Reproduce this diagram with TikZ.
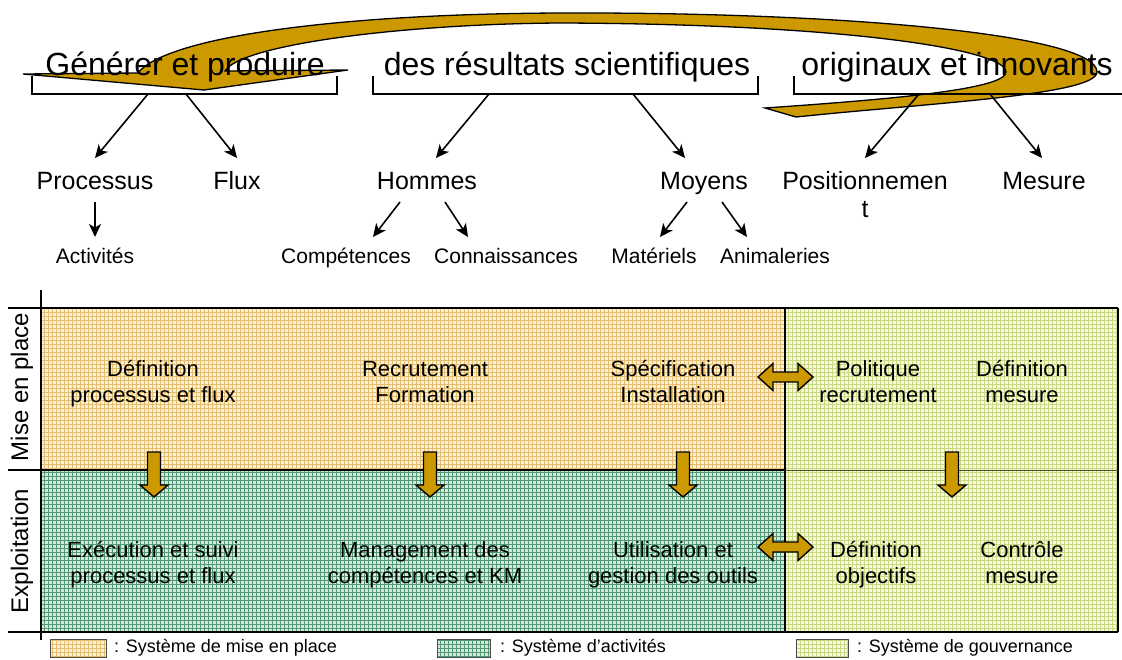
\documentclass[tikz,border=0pt]{standalone}
\usepackage{fontspec}
\setmainfont{Liberation Sans}
\usetikzlibrary{arrows.meta}

\definecolor{gold}{RGB}{204,153,0}
\definecolor{misebg}{RGB}{252,240,212}
\definecolor{miseline}{RGB}{228,190,110}
\definecolor{actbg}{RGB}{212,233,220}
\definecolor{actline}{RGB}{82,152,116}
\definecolor{govbg}{RGB}{246,249,218}
\definecolor{govline}{RGB}{202,216,132}

\tikzset{
  headtxt/.style={font=\fontsize{32}{38}\selectfont, anchor=base, inner sep=0pt},
  lvtwo/.style={font=\fontsize{25}{28}\selectfont, anchor=base, inner sep=0pt,
    text height=18pt, text depth=0pt, outer sep=13pt},
  lvtwobis/.style={font=\fontsize{25}{28}\selectfont, align=center, inner sep=0pt, outer sep=13pt},
  lvthree/.style={font=\fontsize{21}{24}\selectfont, anchor=base, inner sep=0pt,
    text height=15pt, text depth=0pt, outer sep=11pt},
  celltxt/.style={font=\fontsize{22}{26}\selectfont, align=center, inner sep=0pt,
    execute at begin node={\rule{0pt}{22pt}}, execute at end node={\rule[-7pt]{0pt}{1pt}}},
  axetxt/.style={font=\fontsize{24}{28}\selectfont, rotate=90, inner sep=0pt},
  legtxt/.style={font=\fontsize{18}{22}\selectfont, anchor=west, inner sep=0pt},
  fleche/.style={line width=1.6pt, -{Stealth[length=13pt,width=12pt,inset=3.5pt]}},
  bloc/.style={fill=gold, draw=black, line width=1.4pt, line join=miter}
}

\begin{document}
\begin{tikzpicture}[x=1pt,y=-1pt]
  \useasboundingbox (0,0) rectangle (1122,659);

  % zones
  \fill[misebg] (41,308) rectangle (785,470);
  \fill[actbg] (41,470) rectangle (785,632);
  \fill[govbg] (785,308) rectangle (1118,632);
  \draw[miseline, step=4pt, line width=1pt] (41,308) grid (785,470);
  \draw[actline, step=4pt, line width=1pt] (41,470) grid (785,632);
  \draw[govline, step=4pt, line width=1pt] (785,308) grid (1118,632);

  % axes
  \draw[line width=2pt] (41,290) -- (41,640);
  \draw[line width=2pt] (8,308) -- (1118,308);
  \draw[line width=2pt] (8,470) -- (785,470);
  \draw[line width=2pt] (8,632) -- (1118,632);
  \draw[line width=1.5pt] (785,308) -- (785,632);
  \draw[line width=1.5pt] (1118,308) -- (1118,632);
  \draw[black!60!olive, line width=1pt] (785,470) -- (1118,470);

  \node[axetxt] (mep) at (22,387) {Mise en place};
  \node[axetxt] (exp) at (22,551) {Exploitation};

  % grande fleche courbe
  \draw[fill=gold, line width=1.3pt, line join=miter]
    (796,117) .. controls (930,103) and (1097,95) .. (1097,72)
    .. controls (1097,35) and (850,12) .. (560,13)
    .. controls (330,14) and (165,38) .. (138,73)
    -- (23,74) -- (204,90) -- (348,70) -- (225,71)
    .. controls (240,45) and (400,24) .. (560,23)
    .. controls (850,24) and (1006,50) .. (1006,72)
    .. controls (1006,90) and (880,100) .. (765,108) -- cycle;

  % phrase du haut
  \node[headtxt] (gen) at (185,75) {Générer et produire};
  \node[headtxt] (res) at (567,75) {des résultats scientifiques};
  \node[headtxt] (ori) at (957,75) {originaux et innovants};

  \draw[line width=1.3pt] (32,76) -- (32,94) -- (337,94) -- (337,76);
  \draw[line width=1.3pt] (373,76) -- (373,94) -- (758,94) -- (758,76);
  \draw[line width=1.3pt] (794,76) -- (794,94) -- (1122,94);
  \coordinate (b1a) at (148,94);
  \coordinate (b1b) at (186,94);
  \coordinate (b2a) at (489,94);
  \coordinate (b2b) at (633,94);
  \coordinate (b3a) at (919,94);
  \coordinate (b3b) at (990,94);

  % niveau 2
  \node[lvtwo] (proc) at (95,189) {Processus};
  \node[lvtwo] (flux) at (237,189) {Flux};
  \node[lvtwo] (hom) at (427,189) {Hommes};
  \node[lvtwo] (moy) at (704,189) {Moyens};
  \node[lvtwobis, anchor=north] (pos) at (865,158) {Positionnemen\\t};
  \node[lvtwo] (mes) at (1044,189) {Mesure};

  \draw[fleche] (b1a) -- (proc.north);
  \draw[fleche] (b1b) -- (flux.north);
  \draw[fleche] (b2a) -- ([xshift=9pt]hom.north);
  \draw[fleche] (b2b) -- ([xshift=-19pt]moy.north);
  \draw[fleche] (b3a) -- (pos.north);
  \draw[fleche] (b3b) -- ([xshift=-2pt]mes.north);

  % niveau 3
  \node[lvthree] (act) at (95,263) {Activités};
  \node[lvthree] (comp) at (346,263) {Compétences};
  \node[lvthree] (conn) at (506,263) {Connaissances};
  \node[lvthree] (mat) at (654,263) {Matériels};
  \node[lvthree] (ani) at (775,263) {Animaleries};

  \draw[fleche] (proc.south) -- (act.north);
  \draw[fleche] ([xshift=-27pt]hom.south) -- ([xshift=27pt]comp.north);
  \draw[fleche] ([xshift=18pt]hom.south) -- ([xshift=-38pt]conn.north);
  \draw[fleche] ([xshift=-17pt]moy.south) -- ([xshift=6pt]mat.north);
  \draw[fleche] ([xshift=18pt]moy.south) -- ([xshift=-28pt]ani.north);

  % cases
  \node[celltxt] (c11) at (153,385) {Définition\\processus et flux};
  \node[celltxt] (c12) at (425,385) {Recrutement\\Formation};
  \node[celltxt] (c13) at (673,385) {Spécification\\Installation};
  \node[celltxt] (c14) at (878,385) {Politique\\recrutement};
  \node[celltxt] (c15) at (1022,385) {Définition\\mesure};
  \node[celltxt] (c21) at (153,566) {Exécution et suivi\\processus et flux};
  \node[celltxt] (c22) at (425,566) {Management des\\compétences et KM};
  \node[celltxt] (c23) at (673,566) {Utilisation et\\gestion des outils};
  \node[celltxt] (c24) at (876,566) {Définition\\objectifs};
  \node[celltxt] (c25) at (1022,566) {Contrôle\\mesure};

  \foreach \x in {154,430,683,952}
    \draw[bloc] (\x-6.5,452) -- (\x+6.5,452) -- (\x+6.5,485) -- (\x+14,485)
      -- (\x,497) -- (\x-14,485) -- (\x-6.5,485) -- cycle;

  \foreach \y in {377,547}
    \draw[bloc] (758,\y) -- (773,\y-13.5) -- (773,\y-5) -- (798,\y-5) -- (798,\y-13.5)
      -- (813,\y) -- (798,\y+13.5) -- (798,\y+5) -- (773,\y+5) -- (773,\y+13.5) -- cycle;

  % legende
  \fill[misebg] (50,639) rectangle (106,657);
  \draw[miseline, step=4pt, line width=1pt] (50,639) grid (106,657);
  \draw[black!70, line width=1pt] (50,639) rectangle (106,657);
  \node[legtxt] (l1) at (114,648) {: Système de mise en place};
  \fill[actbg] (437,639) rectangle (490,657);
  \draw[actline, step=4pt, line width=1pt] (437,639) grid (490,657);
  \draw[black!70, line width=1pt] (437,639) rectangle (490,657);
  \node[legtxt] (l2) at (500,648) {: Système d'activités};
  \fill[govbg] (796,639) rectangle (848,657);
  \draw[govline, step=4pt, line width=1pt] (796,639) grid (848,657);
  \draw[black!70, line width=1pt] (796,639) rectangle (848,657);
  \node[legtxt] (l3) at (857,648) {: Système de gouvernance};
\end{tikzpicture}
\end{document}
